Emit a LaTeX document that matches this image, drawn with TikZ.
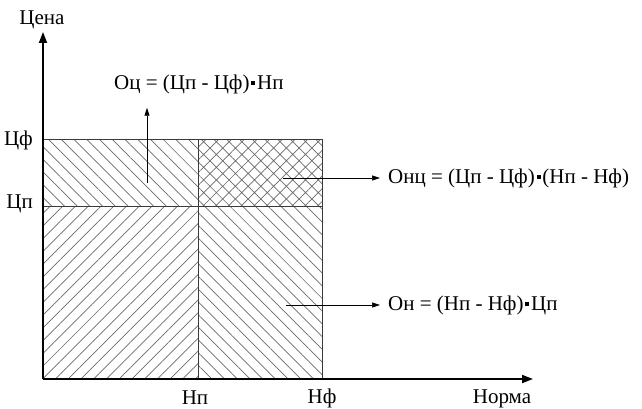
\documentclass[tikz,border=0pt]{standalone}
\usepackage{fontspec}
\setmainfont{Liberation Serif}
\usetikzlibrary{arrows.meta,patterns.meta}
\definecolor{hatchc}{HTML}{6A6A6A}
\definecolor{framec}{HTML}{3A3A3A}
\newcommand\sqdot{\hspace{0.08em}\rule[0.2em]{0.2em}{0.2em}\hspace{0.08em}}
\tikzset{
  axis/.style={line width=1.8pt,-{Triangle[length=11pt,width=8pt]}},
  framel/.style={draw=framec,line width=1pt},
  ptr/.style={line width=0.7pt,-{Triangle[length=8pt,width=5pt]}},
  lbl/.style={inner sep=0pt},
  hatchNE/.style={pattern={Lines[angle=45,distance=9pt,line width=0.7pt]},pattern color=hatchc},
  hatchNW/.style={pattern={Lines[angle=-45,distance=9pt,line width=0.7pt]},pattern color=hatchc},
  hatchX/.style={pattern={Hatch[angle=45,distance=9pt,line width=0.7pt]},pattern color=hatchc},
}
\begin{document}
\begin{tikzpicture}[x=1pt,y=-1pt,font=\fontsize{21}{25}\selectfont]
\useasboundingbox (0,0) rectangle (642,409);
% hatched regions
\fill[hatchNW] (43,139) rectangle (198,206);
\fill[hatchX] (198,139) rectangle (322,206);
\fill[hatchNE] (43,206) rectangle (198,379);
\fill[hatchNW] (198,206) rectangle (322,379);
% frame lines
\draw[framel] (43,139) -- (322,139) -- (322,379);
\draw[framel] (43,206) -- (322,206);
\draw[framel] (198,139) -- (198,379);
% axes
\coordinate (O) at (43,379);
\coordinate (ytop) at (43,32);
\coordinate (xend) at (533,379);
\draw[axis] (O) -- (ytop);
\draw[axis] (O) -- (xend);
% axis labels
\node[lbl] (cena) at (42,20) {Цена};
\node[lbl] (norma) at (502,399) {Норма};
\node[lbl,anchor=east] (cf) at (33,140) {Цф};
\node[lbl,anchor=east] (cp) at (33,204) {Цп};
\node[lbl] (np) at (195,398) {Нп};
\node[lbl] (nf) at (322,398) {Нф};
% formulas
\node[lbl,anchor=west] (oc) at (114,84) {Оц = (Цп - Цф)\sqdot Нп};
\node[lbl,anchor=west] (onc) at (388,178) {Онц = (Цп - Цф)\sqdot(Нп - Нф)};
\node[lbl,anchor=west] (on) at (388,305) {Он = (Нп - Нф)\sqdot Цп};
% pointer arrows
\coordinate (ocs) at (147,183);
\coordinate (oncs) at (283,178);
\coordinate (ons) at (286,305);
\draw[ptr,shorten >=14pt] (ocs) -- (ocs |- oc.south);
\draw[ptr,shorten >=8pt] (oncs) -- (onc.west);
\draw[ptr,shorten >=8pt] (ons) -- (on.west);
\end{tikzpicture}
\end{document}
